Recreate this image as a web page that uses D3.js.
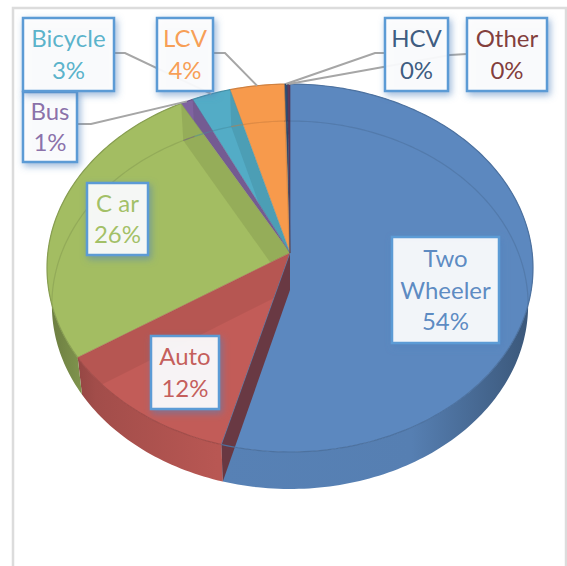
<!DOCTYPE html>
<html>
<head>
<meta charset="utf-8">
<script src="https://cdnjs.cloudflare.com/ajax/libs/d3/7.8.5/d3.min.js"></script>
<style>
html, body { margin: 0; padding: 0; background: #fff; overflow: hidden; }
.lbl { font-family: Lato, "Open Sans", sans-serif; font-size: 24px; text-anchor: middle; }
</style>
</head>
<body>
<div class="graph"></div>
<script>
// chart data
var categories = ["Two Wheeler", "Auto", "Car", "Bus", "Bicycle", "LCV", "HCV", "Other"];
var shares = [54.2, 11.6, 26.2, 0.9, 2.8, 3.9, 0.2, 0.2];
var labelLines = [["Two", "Wheeler", "54%"], ["Auto", "12%"], ["C ar", "26%"], ["Bus", "1%"],
    ["Bicycle", "3%"], ["LCV", "4%"], ["HCV", "0%"], ["Other", "0%"]];
var sliceColors = ["#5c88bf", "#c25c58", "#a3bd62", "#7f63a0", "#53acc6", "#f79a4c", "#2c4d75", "#5b3a5e"];
var textColors = ["#4f81bd", "#c0504d", "#9bbb59", "#8064a2", "#4bacc6", "#f79646", "#2c4d75", "#772c2a"];

// label layout: left, top, right, bottom
var boxes = [[392, 237, 499, 343], [151, 336, 219, 409], [87, 183, 148, 255], [23, 92, 77, 162],
    [23, 18, 114, 91], [157, 18, 213, 91], [385, 18, 448, 91], [467, 18, 547, 91]];
// leader line points from the box out to the elbow
var leaders = [null, null, null, [[77, 124], [91, 124]], [[114, 53], [125, 53]],
    [[213, 53], [225, 53]], [[385, 53], [375, 53]], [[467, 54], [450, 55]]];

var width = 567, height = 566;

// pie geometry, the tilted disc is a projected circle
var cx = 290, cy = 268, rx = 243, ry = 184, skew = -0.0815, depth = 37, bottomScale = 0.98;

var color = d3.scaleOrdinal().domain(categories).range(sliceColors);
var textColor = d3.scaleOrdinal().domain(categories).range(textColors);

function project(a, r) {
    var u = r * Math.sin(a), v = -r * Math.cos(a);
    var w = 1 + skew * v;
    return [cx + rx * u * Math.sqrt(1 - skew * skew) / w, cy + ry * (v + skew) / w];
}
function lower(p) {
    return [cx + (p[0] - cx) * bottomScale, p[1] + depth];
}
function arcPoints(a0, a1) {
    var n = Math.max(2, Math.ceil((a1 - a0) / 0.02));
    return d3.range(n + 1).map(function(i) {
        return project(a0 + (a1 - a0) * i / n, 1);
    });
}
function wedgePath(d) {
    return line([project(0, 0)].concat(arcPoints(d.startAngle, d.endAngle))) + "Z";
}

var line = d3.line();
var pie = d3.pie().sort(null).value(function(d, i) { return shares[i]; });
var slices = pie(categories);

var svg = d3.select(".graph").append("svg")
    .attr("width", width)
    .attr("height", height)
    .style("display", "block");

var defs = svg.append("defs");

var shadow = defs.append("filter")
    .attr("id", "boxShadow")
    .attr("x", "-30%").attr("y", "-30%")
    .attr("width", "160%").attr("height", "160%");
shadow.append("feDropShadow")
    .attr("dx", 2).attr("dy", 3)
    .attr("stdDeviation", 3.5)
    .attr("flood-color", "#4f81bd")
    .attr("flood-opacity", 0.6);

defs.append("clipPath").attr("id", "discClip")
    .append("path")
    .attr("d", line(arcPoints(0, 2 * Math.PI)) + "Z");

// each radial wall only shows inside its own slice
defs.selectAll("clipPath.slice")
    .data(slices)
    .enter().append("clipPath")
    .attr("class", "slice")
    .attr("id", function(d, i) { return "sliceClip" + i; })
    .append("path")
    .attr("d", wedgePath);

// outer wall shading runs dark at both ends of the visible rim
defs.selectAll("linearGradient")
    .data(slices)
    .enter().append("linearGradient")
    .attr("id", function(d, i) { return "wall" + i; })
    .attr("gradientUnits", "userSpaceOnUse")
    .attr("x1", 47).attr("x2", 533).attr("y1", 0).attr("y2", 0)
    .each(function(d) {
        var c = color(d.data);
        var g = d3.select(this);
        g.append("stop").attr("offset", "0%").attr("stop-color", d3.color(c).darker(1.2));
        g.append("stop").attr("offset", "10%").attr("stop-color", d3.color(c).darker(0.5));
        g.append("stop").attr("offset", "35%").attr("stop-color", d3.color(c).darker(0.15));
        g.append("stop").attr("offset", "75%").attr("stop-color", d3.color(c).darker(0.2));
        g.append("stop").attr("offset", "100%").attr("stop-color", d3.color(c).darker(1.3));
    });

// chart frame
svg.append("rect")
    .attr("x", 13).attr("y", 8)
    .attr("width", 553).attr("height", 640)
    .attr("fill", "#fff")
    .attr("stroke", "#dcdcdc")
    .attr("stroke-width", 2.5);

// outer walls
svg.append("g").selectAll("path")
    .data(slices)
    .enter().append("path")
    .attr("d", function(d) {
        var pts = arcPoints(d.startAngle, d.endAngle);
        return line(pts.concat(pts.slice().reverse().map(lower))) + "Z";
    })
    .attr("fill", function(d, i) { return "url(#wall" + i + ")"; });

// top faces
svg.append("g").selectAll("path")
    .data(slices)
    .enter().append("path")
    .attr("d", wedgePath)
    .attr("fill", function(d) { return color(d.data); });

function wallPath(a) {
    var apex = project(a, 0), rim = project(a, 1);
    return line([apex, rim, lower(rim), lower(apex)]) + "Z";
}

// radial walls show through the glassy top
svg.append("g").selectAll("path")
    .data(slices)
    .enter().append("path")
    .attr("d", function(d) { return wallPath(d.endAngle); })
    .attr("fill", function(d) { return d3.color(color(d.data)).darker(0.9); })
    .attr("opacity", function(d) { return d.data == "Two Wheeler" ? 0 : d.data == "Auto" ? 0.22 : 0.3; })
    .attr("clip-path", function(d, i) { return "url(#sliceClip" + i + ")"; });

// Auto's front cut wall lies over the blue slice
var autoSlice = slices[categories.indexOf("Auto")];
svg.append("path")
    .attr("d", wallPath(autoSlice.startAngle))
    .attr("fill", "#6a3238")
    .attr("opacity", 0.92);

// the floor rim, seen through the top
svg.append("g")
    .attr("clip-path", "url(#discClip)")
    .selectAll("path")
    .data(slices)
    .enter().append("path")
    .attr("d", function(d) {
        return line(arcPoints(d.startAngle, d.endAngle).map(lower));
    })
    .attr("fill", "none")
    .attr("stroke", function(d) { return d3.color(color(d.data)).darker(0.6); })
    .attr("stroke-opacity", 0.5)
    .attr("stroke-width", 1.2);

// rim edges
svg.append("g").selectAll("path")
    .data(slices)
    .enter().append("path")
    .attr("d", function(d) { return line(arcPoints(d.startAngle, d.endAngle)); })
    .attr("fill", "none")
    .attr("stroke", function(d) { return d3.color(color(d.data)).darker(0.5); })
    .attr("stroke-width", 1.2);

// slice division lines
svg.append("g").selectAll("path")
    .data(slices)
    .enter().append("path")
    .attr("d", function(d) { return line([project(0, 0), project(d.endAngle, 1)]); })
    .attr("stroke", function(d) { return d3.color(color(d.data)).darker(0.4); })
    .attr("stroke-opacity", 0.6)
    .attr("stroke-width", 1);

// leader lines
svg.append("g").selectAll("path")
    .data(slices.filter(function(d) { return leaders[categories.indexOf(d.data)] || false; }))
    .enter().append("path")
    .attr("d", function(d) {
        var mid = (d.startAngle + d.endAngle) / 2;
        return line(leaders[categories.indexOf(d.data)].concat([project(mid, 1)]));
    })
    .attr("fill", "none")
    .attr("stroke", "#a6a6a6")
    .attr("stroke-width", 2);

// data labels
var label = svg.append("g").selectAll("g")
    .data(categories)
    .enter().append("g");

label.append("rect")
    .attr("x", function(d, i) { return boxes[i][0]; })
    .attr("y", function(d, i) { return boxes[i][1]; })
    .attr("width", function(d, i) { return boxes[i][2] - boxes[i][0]; })
    .attr("height", function(d, i) { return boxes[i][3] - boxes[i][1]; })
    .attr("fill", "#fff")
    .attr("fill-opacity", 0.9)
    .attr("stroke", "#5b9bd5")
    .attr("stroke-width", 2.5)
    .style("filter", "url(#boxShadow)");

var lineStep = 31.5;
label.each(function(d, i) {
    var b = boxes[i], lines = labelLines[i];
    var midY = (b[1] + b[3]) / 2;
    d3.select(this).selectAll("text")
        .data(lines)
        .enter().append("text")
        .attr("class", "lbl")
        .attr("x", (b[0] + b[2]) / 2)
        .attr("y", function(t, j) { return midY + (j - (lines.length - 1) / 2) * lineStep; })
        .attr("dy", "0.36em")
        .attr("fill", textColor(d))
        .attr("fill-opacity", 0.92)
        .text(function(t) { return t; });
});
</script>
</body>
</html>
